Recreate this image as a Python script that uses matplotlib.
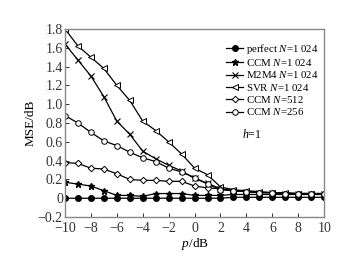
import numpy as np
import matplotlib
matplotlib.use("Agg")
import matplotlib.pyplot as plt

plt.rcParams['font.family'] = ['Liberation Serif', 'DejaVu Serif']
plt.rcParams['mathtext.fontset'] = 'custom'
plt.rcParams['mathtext.it'] = 'Liberation Serif:italic'
plt.rcParams['mathtext.rm'] = 'Liberation Serif'

# SNR values (dB)
p_db = list(range(-10, 11))

perfect_1024 = [0.00, 0.00, 0.00, 0.00, 0.00, 0.00, 0.00, 0.00, 0.00, 0.00, 0.00,
                0.00, 0.00, 0.01, 0.01, 0.01, 0.01, 0.01, 0.01, 0.01, 0.01]
ccm_1024 = [0.17, 0.15, 0.13, 0.08, 0.03, 0.03, 0.02, 0.05, 0.05, 0.05, 0.03,
            0.03, 0.03, 0.04, 0.04, 0.04, 0.04, 0.04, 0.04, 0.04, 0.04]
m2m4_1024 = [1.64, 1.47, 1.30, 1.08, 0.82, 0.68, 0.50, 0.42, 0.35, 0.29, 0.21,
             0.16, 0.10, 0.08, 0.07, 0.06, 0.06, 0.05, 0.05, 0.05, 0.05]
svr_1024 = [1.80, 1.62, 1.50, 1.38, 1.20, 1.04, 0.82, 0.72, 0.60, 0.47, 0.32,
            0.25, 0.12, 0.09, 0.08, 0.07, 0.06, 0.06, 0.05, 0.05, 0.05]
ccm_512 = [0.38, 0.37, 0.32, 0.31, 0.26, 0.20, 0.19, 0.19, 0.18, 0.18, 0.13,
           0.11, 0.10, 0.08, 0.07, 0.06, 0.06, 0.05, 0.05, 0.05, 0.04]
ccm_256 = [0.88, 0.80, 0.70, 0.61, 0.56, 0.49, 0.43, 0.39, 0.32, 0.28, 0.22,
           0.15, 0.09, 0.08, 0.07, 0.06, 0.06, 0.05, 0.05, 0.05, 0.05]

labels = [r'perfect $N$=1 024', r'CCM $N$=1 024', r'M2M4 $N$=1 024',
          r'SVR $N$=1 024', r'CCM $N$=512', r'CCM $N$=256']

fig = plt.figure(figsize=(3.61, 2.59), dpi=100)
ax = fig.add_axes([0.180, 0.162, 0.718, 0.726])

ms = 4
ax.plot(p_db, perfect_1024, '-o', color='black', ms=ms, lw=0.9, label=labels[0])
ax.plot(p_db, ccm_1024, '-*', color='black', ms=ms + 0.5, lw=0.9, label=labels[1])
ax.plot(p_db, m2m4_1024, '-x', color='black', ms=ms, lw=0.9, mew=0.8, label=labels[2])
ax.plot(p_db, svr_1024, '-<', color='black', ms=ms, lw=0.9, mfc='white', mew=0.7, label=labels[3])
ax.plot(p_db, ccm_512, '-D', color='black', ms=ms - 0.7, lw=0.9, mfc='white', mew=0.7, label=labels[4])
ax.plot(p_db, ccm_256, '-o', color='black', ms=ms, lw=0.9, mfc='white', mew=0.7, label=labels[5])

ax.set_xlim(-10, 10)
ax.set_ylim(-0.2, 1.8)
ax.set_xticks(range(-10, 11, 2))
ax.set_xticklabels(['\u221210', '\u22128', '\u22126', '\u22124', '\u22122', '0', '2', '4', '6', '8', '10'])
ax.set_yticks(np.arange(-0.2, 1.81, 0.2))
ax.set_yticklabels(['\u22120.2', '0', '0.2', '0.4', '0.6', '0.8', '1.0', '1.2', '1.4', '1.6', '1.8'])
ax.tick_params(direction='in', length=3, width=0.7, labelsize=10, colors='#333333', pad=1.5)
ax.tick_params(axis='x', pad=3.5)

for s in ax.spines.values():
    s.set_color('#888888')
    s.set_linewidth(1.0)

ax.set_xlabel(r'$p$/dB', fontsize=9.5, labelpad=1)
ax.set_ylabel('MSE/dB', fontsize=9.5, labelpad=1)

ax.legend(loc='upper right', bbox_to_anchor=(0.995, 0.955), frameon=False, fontsize=7.8,
          handlelength=1.5, handletextpad=0.3, labelspacing=0.12, borderaxespad=0.2,
          borderpad=0.2)

ax.text(0.72, 0.44, r'$h$=1', transform=ax.transAxes, fontsize=8.5, ha='center', va='center')

fig.savefig('out.png', dpi=100)
